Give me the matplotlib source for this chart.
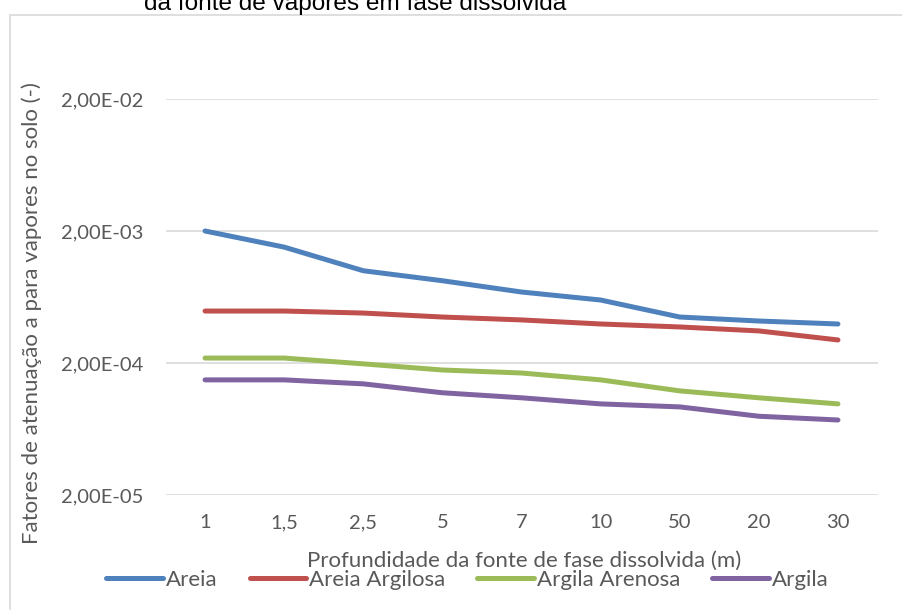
import matplotlib
matplotlib.use("Agg")
import matplotlib.pyplot as plt
from matplotlib.patches import Rectangle
from matplotlib.ticker import FixedLocator, NullLocator

categories = ["1", "1,5", "2,5", "5", "7", "10", "50", "20", "30"]
areia = [2.0e-3, 1.51e-3, 1.0e-3, 8.4e-4, 6.9e-4, 6.0e-4, 4.46e-4, 4.16e-4, 3.95e-4]
areia_argilosa = [4.95e-4, 4.95e-4, 4.78e-4, 4.46e-4, 4.24e-4, 3.95e-4, 3.75e-4, 3.5e-4, 2.99e-4]
argila_arenosa = [2.18e-4, 2.18e-4, 1.97e-4, 1.77e-4, 1.68e-4, 1.49e-4, 1.23e-4, 1.09e-4, 9.8e-5]
argila = [1.49e-4, 1.49e-4, 1.39e-4, 1.19e-4, 1.09e-4, 9.8e-5, 9.3e-5, 7.9e-5, 7.4e-5]
series_names = ["Areia", "Areia Argilosa", "Argila Arenosa", "Argila"]
y_ticks = [2e-5, 2e-4, 2e-3, 2e-2]
y_tick_labels = ["2,00E-05", "2,00E-04", "2,00E-03", "2,00E-02"]

colors = ["#4F81BD", "#C0504D", "#9BBB59", "#8064A2"]
W, H = 902, 610
FONT = ["Lato", "DejaVu Sans"]
TXT = "#595959"

fig = plt.figure(figsize=(W / 100, H / 100), dpi=100)
fig.patch.set_facecolor("white")

# outer chart border
fig.patches.append(Rectangle((9.5 / W, -0.1), 1.2, 1 - 14.5 / H + 0.1,
                             transform=fig.transFigure, fill=False,
                             edgecolor="#D9D9D9", lw=1.2))

left, right, top, bottom = 165.5, 877.5, 99, 495
ax = fig.add_axes([left / W, 1 - bottom / H, (right - left) / W, (bottom - top) / H])
ax.set_yscale("log")
ax.set_ylim(2e-5, 2e-2)
x = list(range(len(categories)))
ax.set_xlim(-0.5, len(categories) - 0.5)

for vals, c, name in zip([areia, areia_argilosa, argila_arenosa, argila], colors, series_names):
    ax.plot(x, vals, color=c, lw=3.6, solid_capstyle="round", solid_joinstyle="round", label=name)

ax.yaxis.set_major_locator(FixedLocator(y_ticks))
ax.yaxis.set_minor_locator(NullLocator())
ax.set_yticklabels(y_tick_labels, fontfamily=FONT, fontsize=14.5, color=TXT)
ax.set_xticks(x)
ax.set_xticklabels(categories, fontfamily=FONT, fontsize=14.5, color=TXT)
ax.tick_params(axis="y", length=0, pad=16)
ax.tick_params(axis="x", length=0, pad=14)
ax.grid(axis="y", color="#D9D9D9", lw=1.2)
ax.set_axisbelow(True)
for s in ax.spines.values():
    s.set_visible(False)

fig.text(355 / W, 1 - 10 / H, "da fonte de vapores em fase dissolvida",
         ha="center", va="baseline", fontfamily=["Liberation Sans", "DejaVu Sans"],
         fontsize=17.6, color="#000000")

fig.text(32 / W, 1 - 313 / H, "Fatores de atenuação a para vapores no solo (-)",
         rotation=90, ha="center", va="center", fontfamily=FONT, fontsize=16, color=TXT)
fig.text(524 / W, 1 - 561 / H, "Profundidade da fonte de fase dissolvida (m)",
         ha="center", va="center", fontfamily=FONT, fontsize=16, color=TXT)

leg = fig.legend(loc="center", bbox_to_anchor=(467.5 / W, 1 - 580 / H), ncol=4,
                 frameon=False, handlelength=2.55, handletextpad=0.13,
                 columnspacing=1.44, prop={"family": FONT, "size": 16},
                 borderaxespad=0, borderpad=0)
for t in leg.get_texts():
    t.set_color(TXT)

fig.savefig("out.png", dpi=100, facecolor="white")
